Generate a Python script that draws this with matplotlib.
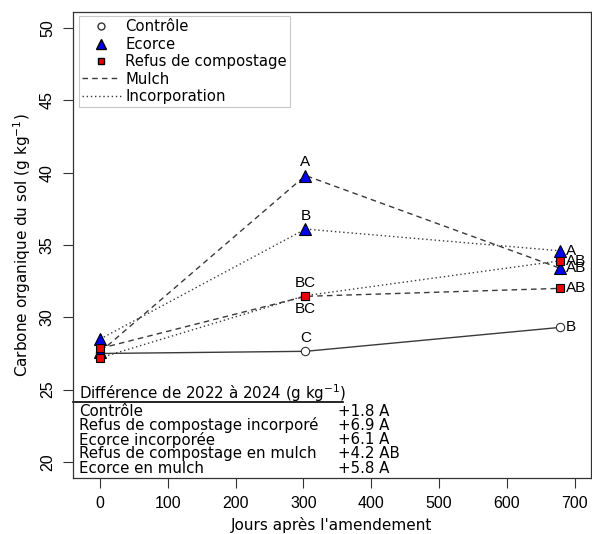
import matplotlib
matplotlib.use("Agg")
import matplotlib.pyplot as plt
from matplotlib.lines import Line2D

# jours apres l'amendement
days = [0, 303, 678]

controle = [27.5, 27.65, 29.3]
ecorce_mulch = [27.6, 39.8, 33.4]
ecorce_incorp = [28.5, 36.1, 34.6]
refus_mulch = [27.85, 31.45, 32.0]
refus_incorp = [27.2, 31.5, 33.9]

# lettres (groupes statistiques)
letters_303 = {"ecorce_mulch": "A", "ecorce_incorp": "B",
               "refus_mulch": "BC", "refus_incorp": "BC", "controle": "C"}
letters_678 = {"ecorce_incorp": "A", "refus_incorp": "AB", "ecorce_mulch": "AB",
               "refus_mulch": "AB", "controle": "B"}

diff_names = ["Contrôle", "Refus de compostage incorporé", "Ecorce incorporée",
              "Refus de compostage en mulch", "Ecorce en mulch"]
diff_values = ["+1.8 A", "+6.9 A", "+6.1 A", "+4.2 AB", "+5.8 A"]

LINE = "#3a3a3a"
lab_font = "DejaVu Sans"
num_font = "Liberation Sans"

fig = plt.figure(figsize=(5.92, 5.34), dpi=100)
ax = fig.add_axes([0.1233, 0.105, 0.8747, 0.8725])

dash = (0, (4, 3))
dot = (0, (1, 2))

series = {
    "controle": (controle, "-", "o", "white"),
    "ecorce_mulch": (ecorce_mulch, dash, "^", "#0000ee"),
    "ecorce_incorp": (ecorce_incorp, dot, "^", "#0000ee"),
    "refus_mulch": (refus_mulch, dash, "s", "#ee0000"),
    "refus_incorp": (refus_incorp, dot, "s", "#ee0000"),
}

for key, (vals, ls, mk, fc) in series.items():
    ax.plot(days, vals, color=LINE, linestyle=ls, linewidth=1.0, zorder=2)
    size = 6 if mk == "o" else (8 if mk == "^" else 6)
    ax.plot(days, vals, linestyle="none", marker=mk, markersize=size,
            markerfacecolor=fc, markeredgecolor="#333333" if mk == "o" else "black",
            markeredgewidth=0.8, zorder=3)

# lettres au jour 303
above = ["ecorce_mulch", "ecorce_incorp", "refus_mulch", "controle"]
for key in above:
    ax.annotate(letters_303[key], (days[1], series[key][0][1]), xytext=(0, 9.5),
                textcoords="offset points", ha="center", va="center",
                fontsize=11, family=num_font)
ax.annotate(letters_303["refus_incorp"], (days[1], refus_incorp[1]), xytext=(0, -9.5),
            textcoords="offset points", ha="center", va="center",
            fontsize=11, family=num_font)

# lettres au jour 678
for key, let in letters_678.items():
    ax.annotate(let, (days[2], series[key][0][2]), xytext=(4.5, 0),
                textcoords="offset points", ha="left", va="center",
                fontsize=11, family=num_font)

ax.set_xlim(-40, 724)
ax.set_ylim(18.9, 51.1)
ax.set_xticks([0, 100, 200, 300, 400, 500, 600, 700])
ax.set_yticks([20, 25, 30, 35, 40, 45, 50])
ax.tick_params(direction="out", length=7, width=0.8, color="#333333",
               labelsize=11.5, pad=6)
for lbl in ax.get_xticklabels() + ax.get_yticklabels():
    lbl.set_family(num_font)
for lbl in ax.get_yticklabels():
    lbl.set_rotation(90)
    lbl.set_va("center")
for sp in ax.spines.values():
    sp.set_color("#333333")
    sp.set_linewidth(0.9)

ax.set_xlabel("Jours après l'amendement", fontsize=11, family=lab_font, labelpad=4)
ax.set_ylabel("Carbone organique du sol (g kg$^{-1}$)", fontsize=11,
              family=lab_font, labelpad=5)

# legende
handles = [
    Line2D([], [], linestyle="none", marker="o", markersize=5,
           markerfacecolor="white", markeredgecolor="#333333"),
    Line2D([], [], linestyle="none", marker="^", markersize=7,
           markerfacecolor="#0000ee", markeredgecolor="black"),
    Line2D([], [], linestyle="none", marker="s", markersize=5,
           markerfacecolor="#ee0000", markeredgecolor="black"),
    Line2D([], [], color=LINE, linestyle=dash, linewidth=1.0),
    Line2D([], [], color=LINE, linestyle=dot, linewidth=1.0),
]
labels = ["Contrôle", "Ecorce", "Refus de compostage", "Mulch", "Incorporation"]
leg = ax.legend(handles, labels, loc="upper left", bbox_to_anchor=(0.011, 0.991),
                prop={"family": lab_font, "size": 10.7}, frameon=True,
                fancybox=False, edgecolor="#bbbbbb", labelspacing=0.16,
                handlelength=2.6, handletextpad=0.3, borderpad=0.22,
                borderaxespad=0.0)
leg.get_frame().set_linewidth(0.8)

# tableau des differences
tx0 = 0.011
ax.text(tx0, 0.182, "Différence de 2022 à 2024 (g kg$^{-1}$)", transform=ax.transAxes,
        fontsize=10.8, family=lab_font, va="center", ha="left")
ax.plot([0.0, 0.521], [0.163, 0.163], transform=ax.transAxes, color="black",
        linewidth=1.2, clip_on=False)
row_y = [0.143, 0.113, 0.082, 0.052, 0.021]
for name, val, yy in zip(diff_names, diff_values, row_y):
    ax.text(tx0, yy, name, transform=ax.transAxes, fontsize=10.8,
            family=lab_font, va="center", ha="left")
    ax.text(0.512, yy, val, transform=ax.transAxes, fontsize=10.8,
            family=lab_font, va="center", ha="left")

fig.savefig("out.png", dpi=100)
